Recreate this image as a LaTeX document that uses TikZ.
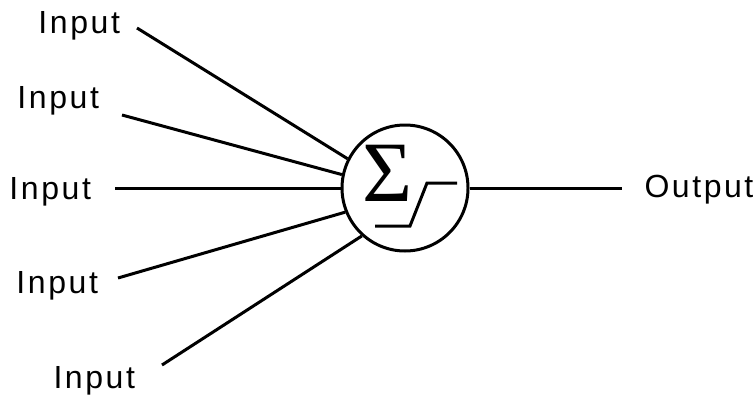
\documentclass[tikz,border=0pt]{standalone}
\usepackage{fontspec}
\setmainfont{Liberation Sans}[LetterSpace=8]
\newfontfamily\sigmafont{Liberation Serif}
\usetikzlibrary{positioning}

\begin{document}
\begin{tikzpicture}[x=0.5pt, y=-0.5pt, line width=1.5pt, font=\fontsize{16}{18}\selectfont]
        \useasboundingbox (0,0) rectangle (754,396);
        \tikzset{lbl/.style={inner sep=0pt, anchor=base west}}

        \node[draw, circle, minimum size=63pt, inner sep=0pt] (N) at (405,188) {};
        \node[inner sep=0pt, font=\sigmafont\fontsize{43}{43}\selectfont] (S) at (387.5,173.5) {Σ};
        \draw (375,226) -- (410,226) -- (427,183) -- (457,183);

        \node[lbl] (I1) at (37,33) {Input};
        \node[lbl] (I2) at (16,108) {Input};
        \node[lbl] (I3) at (8,199) {Input};
        \node[lbl] (I4) at (15,293) {Input};
        \node[lbl] (I5) at (52,388) {Input};
        \node[lbl] (O) at (643,197) {Output};

        \coordinate (c1) at (137,28);
        \coordinate (c2) at (122,115);
        \coordinate (c3) at (115,188);
        \coordinate (c4) at (118,278);
        \coordinate (c5) at (162,365);
        \coordinate (co) at (622,188);

        \draw (c1) -- (N.153);
        \draw (c2) -- (N.168);
        \draw (c3) -- (N.180);
        \draw (c4) -- (N.202);
        \draw (c5) -- (N.228);
        \draw (N.0) -- (co);
\end{tikzpicture}
\end{document}
